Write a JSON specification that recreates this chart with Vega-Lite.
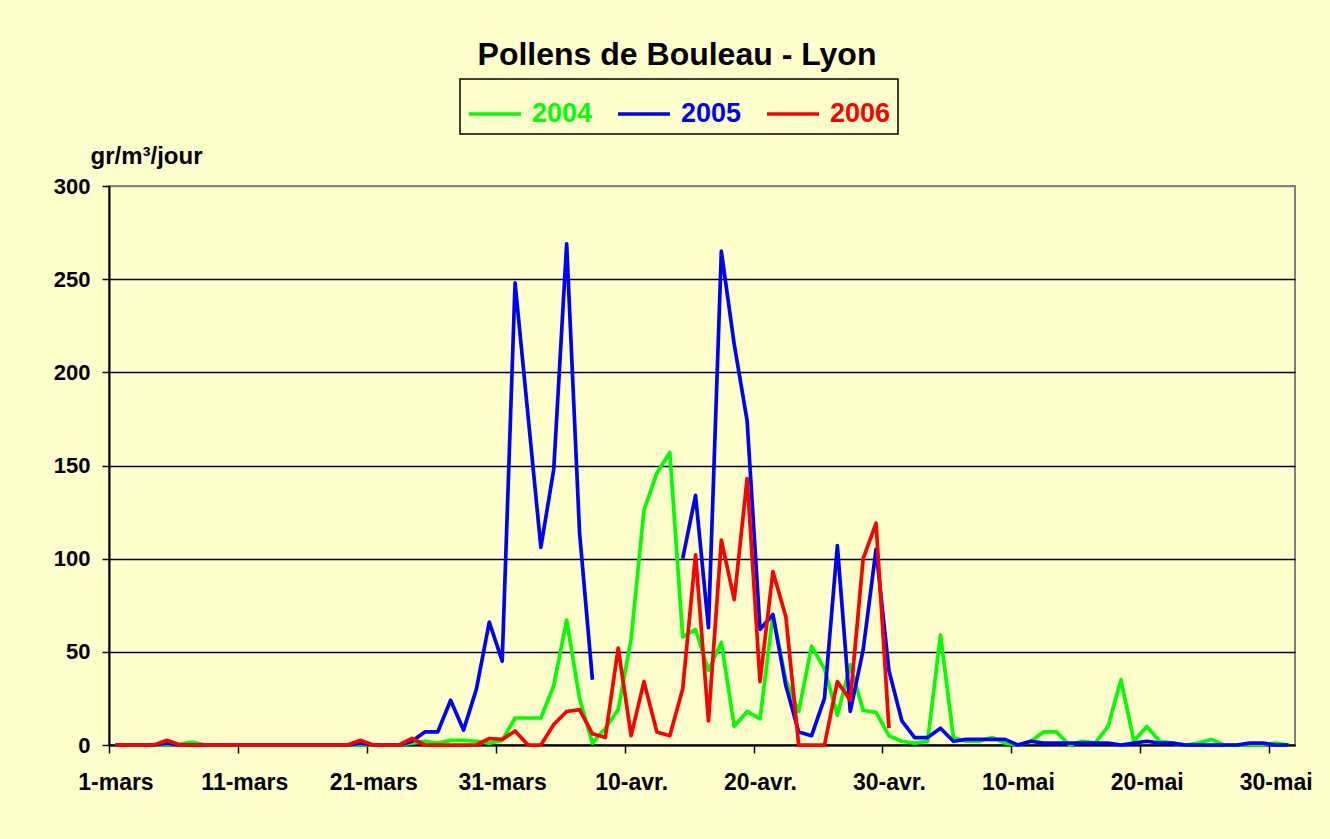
{
  "$schema": "https://vega.github.io/schema/vega-lite/v6.json",
  "width": 1186,
  "height": 559,
  "autosize": {"type": "none"},
  "padding": {"left": 109, "top": 186, "right": 35, "bottom": 94},
  "background": "#FFFFCC",
  "config": {
    "font": "Liberation Sans",
    "view": {"stroke": "#808080", "strokeWidth": 2, "fill": "#FFFFCC"}
  },
  "title": {
    "text": "Pollens de Bouleau - Lyon",
    "fontSize": 32,
    "fontWeight": "bold",
    "color": "black",
    "anchor": "middle",
    "frame": "group",
    "dx": -25,
    "offset": 6
  },
  "data": {
    "values": [
      {"jour": 0, "2004": 0, "2005": 0, "2006": 0},
      {"jour": 1, "2004": 0, "2005": 0, "2006": 0},
      {"jour": 2, "2004": 0, "2005": 0, "2006": 0},
      {"jour": 3, "2004": 0, "2005": 0, "2006": 0},
      {"jour": 4, "2004": 0, "2005": 1, "2006": 2.5},
      {"jour": 5, "2004": 0.5, "2005": 0, "2006": 0},
      {"jour": 6, "2004": 1.5, "2005": 0, "2006": 0},
      {"jour": 7, "2004": 0, "2005": 0, "2006": 0},
      {"jour": 8, "2004": 0, "2005": 0, "2006": 0},
      {"jour": 9, "2004": 0, "2005": 0, "2006": 0},
      {"jour": 10, "2004": 0, "2005": 0, "2006": 0},
      {"jour": 11, "2004": 0, "2005": 0, "2006": 0},
      {"jour": 12, "2004": 0, "2005": 0, "2006": 0},
      {"jour": 13, "2004": 0, "2005": 0, "2006": 0},
      {"jour": 14, "2004": 0, "2005": 0, "2006": 0},
      {"jour": 15, "2004": 0, "2005": 0, "2006": 0},
      {"jour": 16, "2004": 0, "2005": 0, "2006": 0},
      {"jour": 17, "2004": 0, "2005": 0, "2006": 0},
      {"jour": 18, "2004": 0, "2005": 0, "2006": 0},
      {"jour": 19, "2004": 0, "2005": 1, "2006": 2.5},
      {"jour": 20, "2004": 0, "2005": 0, "2006": 0},
      {"jour": 21, "2004": 0, "2005": 0, "2006": 0},
      {"jour": 22, "2004": 0, "2005": 0, "2006": 0},
      {"jour": 23, "2004": 1, "2005": 2, "2006": 3.5},
      {"jour": 24, "2004": 2, "2005": 7, "2006": 0},
      {"jour": 25, "2004": 1, "2005": 7, "2006": 0},
      {"jour": 26, "2004": 2.5, "2005": 24, "2006": 0},
      {"jour": 27, "2004": 2.5, "2005": 8, "2006": 0},
      {"jour": 28, "2004": 2, "2005": 30, "2006": 0},
      {"jour": 29, "2004": 1, "2005": 66, "2006": 3.5},
      {"jour": 30, "2004": 2.5, "2005": 45, "2006": 3},
      {"jour": 31, "2004": 14.5, "2005": 248, "2006": 7.5},
      {"jour": 32, "2004": 14.5, "2005": 177, "2006": 0},
      {"jour": 33, "2004": 14.5, "2005": 106, "2006": 0},
      {"jour": 34, "2004": 32, "2005": 148, "2006": 11},
      {"jour": 35, "2004": 67, "2005": 269, "2006": 18},
      {"jour": 36, "2004": 25, "2005": 114, "2006": 19},
      {"jour": 37, "2004": 1, "2005": 35, "2006": 6},
      {"jour": 38, "2004": 9, "2005": null, "2006": 4},
      {"jour": 39, "2004": 19, "2005": null, "2006": 52},
      {"jour": 40, "2004": 57, "2005": null, "2006": 5},
      {"jour": 41, "2004": 126, "2005": null, "2006": 34},
      {"jour": 42, "2004": 146, "2005": null, "2006": 7},
      {"jour": 43, "2004": 157, "2005": null, "2006": 5},
      {"jour": 44, "2004": 58, "2005": 100, "2006": 30},
      {"jour": 45, "2004": 62, "2005": 134, "2006": 102},
      {"jour": 46, "2004": 40, "2005": 63, "2006": 13},
      {"jour": 47, "2004": 55, "2005": 265, "2006": 110},
      {"jour": 48, "2004": 10, "2005": 215, "2006": 78},
      {"jour": 49, "2004": 18, "2005": 174, "2006": 143},
      {"jour": 50, "2004": 14, "2005": 62, "2006": 34},
      {"jour": 51, "2004": 70, "2005": 70, "2006": 93},
      {"jour": 52, "2004": 35, "2005": 32, "2006": 69},
      {"jour": 53, "2004": 18, "2005": 7, "2006": 0},
      {"jour": 54, "2004": 53, "2005": 5, "2006": 0},
      {"jour": 55, "2004": 41, "2005": 25, "2006": 0},
      {"jour": 56, "2004": 16, "2005": 107, "2006": 34},
      {"jour": 57, "2004": 43, "2005": 18, "2006": 24},
      {"jour": 58, "2004": 18.5, "2005": 51, "2006": 100},
      {"jour": 59, "2004": 17.5, "2005": 105, "2006": 119},
      {"jour": 60, "2004": 5, "2005": 40, "2006": 9},
      {"jour": 61, "2004": 2, "2005": 13, "2006": null},
      {"jour": 62, "2004": 1, "2005": 4, "2006": null},
      {"jour": 63, "2004": 2, "2005": 4, "2006": null},
      {"jour": 64, "2004": 59, "2005": 9, "2006": null},
      {"jour": 65, "2004": 4, "2005": 2, "2006": null},
      {"jour": 66, "2004": 2, "2005": 3, "2006": null},
      {"jour": 67, "2004": 2, "2005": 3, "2006": null},
      {"jour": 68, "2004": 4, "2005": 3, "2006": null},
      {"jour": 69, "2004": 1, "2005": 3, "2006": null},
      {"jour": 70, "2004": 0, "2005": 0, "2006": null},
      {"jour": 71, "2004": 2, "2005": 2, "2006": null},
      {"jour": 72, "2004": 7, "2005": 1, "2006": null},
      {"jour": 73, "2004": 7, "2005": 1, "2006": null},
      {"jour": 74, "2004": 0, "2005": 1, "2006": null},
      {"jour": 75, "2004": 2, "2005": 1, "2006": null},
      {"jour": 76, "2004": 1, "2005": 1, "2006": null},
      {"jour": 77, "2004": 10, "2005": 1, "2006": null},
      {"jour": 78, "2004": 35, "2005": 0, "2006": null},
      {"jour": 79, "2004": 2, "2005": 1, "2006": null},
      {"jour": 80, "2004": 10, "2005": 2, "2006": null},
      {"jour": 81, "2004": 2, "2005": 1, "2006": null},
      {"jour": 82, "2004": 1, "2005": 1, "2006": null},
      {"jour": 83, "2004": 0, "2005": 0, "2006": null},
      {"jour": 84, "2004": 1, "2005": 0, "2006": null},
      {"jour": 85, "2004": 3, "2005": 0, "2006": null},
      {"jour": 86, "2004": 0, "2005": 0, "2006": null},
      {"jour": 87, "2004": 0, "2005": 0, "2006": null},
      {"jour": 88, "2004": 0, "2005": 1, "2006": null},
      {"jour": 89, "2004": 0, "2005": 1, "2006": null},
      {"jour": 90, "2004": 1, "2005": 0, "2006": null},
      {"jour": 91, "2004": 0, "2005": 0, "2006": null}
    ]
  },
  "transform": [
    {"fold": ["2004", "2005", "2006"], "as": ["annee", "pollen"]}
  ],
  "mark": {
    "type": "line",
    "strokeWidth": 3.7,
    "strokeJoin": "round",
    "invalid": "break-paths-show-domains"
  },
  "encoding": {
    "x": {
      "field": "jour",
      "type": "quantitative",
      "scale": {"domain": [-0.5, 91.5], "nice": false, "zero": false},
      "axis": {
        "values": [0, 10, 20, 30, 40, 50, 60, 70, 80, 90],
        "labelExpr": "['1-mars','11-mars','21-mars','31-mars','10-avr.','20-avr.','30-avr.','10-mai','20-mai','30-mai'][round(datum.value/10)]",
        "tickOffset": -6.45,
        "labelOffset": 6.45,
        "grid": false,
        "title": null,
        "labelFontSize": 23,
        "labelFontWeight": "bold",
        "labelColor": "black",
        "labelPadding": 18,
        "labelFlush": false,
        "labelOverlap": false,
        "tickSize": 8,
        "tickColor": "black",
        "tickWidth": 1.5,
        "domainColor": "black",
        "domainWidth": 2
      }
    },
    "y": {
      "field": "pollen",
      "type": "quantitative",
      "scale": {"domain": [0, 300], "nice": false},
      "axis": {
        "values": [0, 50, 100, 150, 200, 250, 300],
        "title": "gr/m³/jour",
        "titleAngle": 0,
        "titleAlign": "left",
        "titleBaseline": "alphabetic",
        "titleX": -19,
        "titleY": -23,
        "titleFontSize": 24,
        "titleFontWeight": "bold",
        "titleColor": "black",
        "labelFontSize": 22,
        "labelFontWeight": "bold",
        "labelColor": "black",
        "labelPadding": 12,
        "tickSize": 7,
        "tickColor": "black",
        "tickWidth": 1.5,
        "domainColor": "black",
        "domainWidth": 2,
        "grid": true,
        "gridColor": {"condition": {"test": "datum.value === 300", "value": "#808080"}, "value": "black"},
        "gridWidth": 1.5
      }
    },
    "color": {
      "field": "annee",
      "type": "nominal",
      "scale": {"domain": ["2004", "2005", "2006"], "range": ["#00FF00", "#0000FF", "#FF0000"]},
      "legend": {
        "orient": "none",
        "legendX": 351,
        "legendY": -107,
        "direction": "horizontal",
        "title": null,
        "symbolType": "stroke",
        "symbolSize": 2704,
        "symbolStrokeWidth": 3.7,
        "labelFontSize": 27,
        "labelFontWeight": "bold",
        "labelOffset": 9,
        "columnPadding": 17,
        "padding": 7,
        "labelLimit": 0,
        "strokeColor": "black",
        "fillColor": "#FFFFCC",
        "encode": {
          "legend": {"update": {"strokeWidth": {"value": 1.5}}},
          "labels": {"update": {"fill": {"signal": "datum.value === '2004' ? '#00FF00' : datum.value === '2005' ? '#0000FF' : '#FF0000'"}}}
        }
      }
    }
  }
}
